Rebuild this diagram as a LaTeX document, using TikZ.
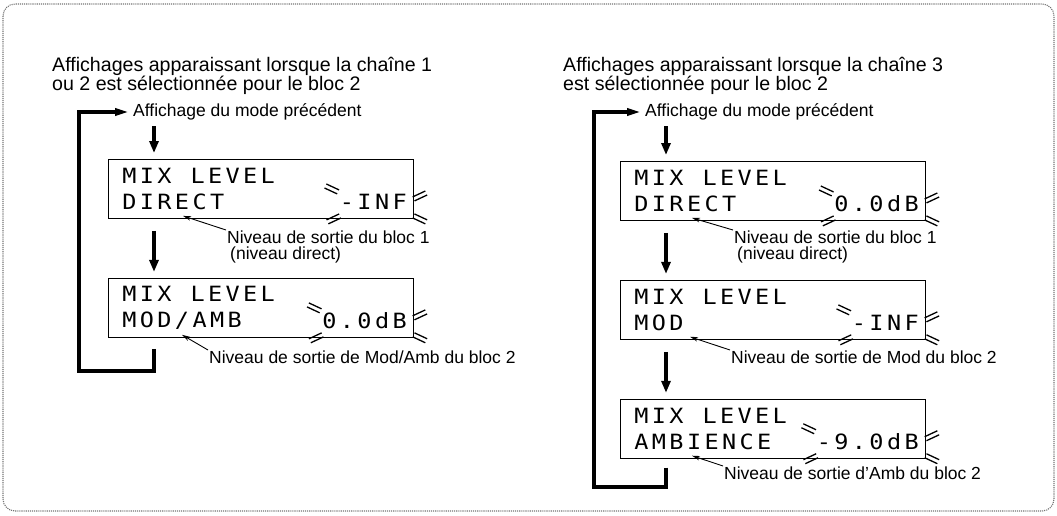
\documentclass[tikz,border=0pt]{standalone}
\usepackage{fontspec}
\setmainfont{Liberation Sans}
\newfontfamily\lcdfont[FakeStretch=1.12,LetterSpace=16]{DejaVu Sans Mono}
\usetikzlibrary{arrows.meta,positioning}
\tikzset{blink/.pic={\draw[line width=1.3pt] (-7,-2.2)--(7,-2.2) (-7,2.2)--(7,2.2);}}

\begin{document}
\begin{tikzpicture}[x=1pt,y=-1pt,
			node distance=59pt,
			frame/.style={draw=black!55,densely dotted,line width=1.1pt,rounded corners=12pt},
			title/.style={anchor=north west,align=left,inner sep=0pt,font=\fontsize{19.6}{14.5}\selectfont},
			prevtxt/.style={anchor=west,inner sep=4pt,font=\fontsize{17.5}{20}\selectfont},
			note/.style={anchor=north west,align=left,inner sep=1pt,font=\fontsize{17.5}{16}\selectfont},
			lcd/.style={draw,line width=0.9pt,minimum width=305pt,minimum height=59pt,text width=277pt,inner xsep=14pt,inner ysep=0pt,align=left,
				font={\lcdfont\fontsize{21}{26}\selectfont}},
			val/.style={anchor=east,inner sep=0pt,font=\lcdfont\fontsize{21}{26}\selectfont},
			flow/.style={-{Triangle[length=12pt,width=9pt]},line width=3.4pt,shorten >=6pt},
			loopline/.style={-{Triangle[length=14pt,width=7pt]},line width=3.4pt,line join=miter},
			pointer/.style={-{Stealth[length=8pt,width=4.5pt]},line width=0.9pt}
			]
			\useasboundingbox (0,0) rectangle (1057,515);
			\draw[frame] (3,4) rectangle (1054,511);

			% chaine 1 ou 2
			\node[title] (ttl1) at (52,57) {Affichages apparaissant lorsque la chaîne 1\\ou 2 est sélectionnée pour le bloc 2};
			\node[prevtxt] (prev1) at (129,112) {Affichage du mode précédent};
			\node[lcd,anchor=north west] (a1) at (108,159) {MIX \hspace{12pt}LEVEL\\DIRECT};
			\node[lcd,below=of a1] (a2) {MIX \hspace{12pt}LEVEL\\MOD/AMB};
			\node[val] (va1) at ([xshift=-7pt,yshift=-13pt]a1.east) {-INF};
			\node[val] (va2) at ([xshift=-7pt,yshift=-13pt]a2.east) {0.0dB};
			\node[note] (na1) at (226,230) {Niveau de sortie du bloc 1\\\hspace*{3pt}(niveau direct)};
			\node[note] (na2) at (208,350) {Niveau de sortie de Mod/Amb du bloc 2};
			\coordinate (ta1) at ([xshift=75pt,yshift=3pt]a1.south west);
			\coordinate (ta2) at ([xshift=74pt,yshift=3pt]a2.south west);
			\coordinate (ax1) at (154,0);
			\coordinate (lp1) at (79,371);
			\draw[flow,shorten <=2pt] (prev1.south -| ax1) -- (a1.north -| ax1);
			\draw[flow,shorten <=12pt] (a1.south -| ax1) -- (a2.north -| ax1);
			\draw[loopline,shorten <=11pt] (a2.south -| ax1) |- (lp1) |- (prev1.west);
			\draw[pointer] (na1.north west) -- (ta1);
			\draw[pointer] (na2.north west) -- (ta2);

			% chaine 3
			\node[title] (ttl2) at (563,57) {Affichages apparaissant lorsque la chaîne 3\\est sélectionnée pour le bloc 2};
			\node[prevtxt] (prev2) at (641,112) {Affichage du mode précédent};
			\node[lcd,anchor=north west] (b1) at (620,161) {MIX \hspace{12pt}LEVEL\\DIRECT};
			\node[lcd,below=of b1] (b2) {MIX \hspace{12pt}LEVEL\\MOD};
			\node[lcd,below=of b2] (b3) {MIX \hspace{12pt}LEVEL\\AMBIENCE};
			\node[val] (vb1) at ([xshift=-7pt,yshift=-13pt]b1.east) {0.0dB};
			\node[val] (vb2) at ([xshift=-7pt,yshift=-13pt]b2.east) {-INF};
			\node[val] (vb3) at ([xshift=-7pt,yshift=-13pt]b3.east) {-9.0dB};
			\node[note] (nb1) at (733,230) {Niveau de sortie du bloc 1\\\hspace*{3pt}(niveau direct)};
			\node[note] (nb2) at (730,350) {Niveau de sortie de Mod du bloc 2};
			\node[note] (nb3) at (723,466) {Niveau de sortie d'Amb du bloc 2};
			\coordinate (tb1) at ([xshift=72pt,yshift=3pt]b1.south west);
			\coordinate (tb2) at ([xshift=70pt,yshift=3pt]b2.south west);
			\coordinate (tb3) at ([xshift=72pt,yshift=3pt]b3.south west);
			\coordinate (ax2) at (666,0);
			\coordinate (lp2) at (594,487);
			\draw[flow,shorten <=2pt] (prev2.south -| ax2) -- (b1.north -| ax2);
			\draw[flow,shorten <=12pt] (b1.south -| ax2) -- (b2.north -| ax2);
			\draw[flow,shorten <=12pt] (b2.south -| ax2) -- (b3.north -| ax2);
			\draw[loopline,shorten <=9pt] (b3.south -| ax2) |- (lp2) |- (prev2.west);
			\draw[pointer] (nb1.north west) -- (tb1);
			\draw[pointer] (nb2.north west) -- (tb2);
			\draw[pointer] (nb3.north west) -- (tb3);

			% marks round the level field
			\foreach \b/\v in {a1/va1,a2/va2,b1/vb1,b2/vb2,b3/vb3}{
				\path (\v.west) ++(-8,-13) pic[rotate=-25]{blink};
				\path (\v.west |- \b.south) ++(-6,0) pic[rotate=25]{blink};
				\path (\b.east |- \v.west) ++(6,-6) pic[rotate=25]{blink};
				\path (\b.south east) ++(6,0) pic[rotate=-25]{blink};
			}
		\end{tikzpicture}
\end{document}
